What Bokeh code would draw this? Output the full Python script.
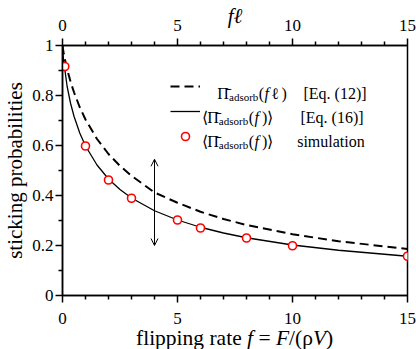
from bokeh.plotting import figure
from bokeh.models import (Range1d, LinearAxis, FixedTicker, Label, Arrow, OpenHead,
                          Legend, LegendItem, Div)
from bokeh.layouts import column
from bokeh.embed import file_html
from bokeh.resources import INLINE

# ---------------- data ----------------
f_curve = [0, 0.02, 0.05, 0.1, 0.2, 0.35, 0.5, 0.75, 1, 1.5, 2, 2.5, 3, 4,
           5, 6, 7, 8, 10, 12, 15]
p_eq12 = [1.0, 0.986, 0.970, 0.946, 0.906, 0.855, 0.813, 0.753, 0.704, 0.626,
          0.566, 0.518, 0.479, 0.412, 0.371, 0.335, 0.306, 0.282, 0.245, 0.217, 0.186]
p_eq16 = [1.0, 0.968, 0.937, 0.905, 0.837, 0.769, 0.717, 0.650, 0.598, 0.522,
          0.466, 0.424, 0.390, 0.339, 0.302, 0.273, 0.250, 0.231, 0.202, 0.181, 0.157]
f_sim = [0.1, 1, 2, 3, 5, 6, 8, 10, 15]
p_sim = [0.916, 0.598, 0.462, 0.389, 0.302, 0.270, 0.230, 0.199, 0.157]

x_ticks = [0, 5, 10, 15]
x_minor = [1, 2, 3, 4, 6, 7, 8, 9, 11, 12, 13, 14]
y_ticks = [0, 0.2, 0.4, 0.6, 0.8, 1.0]
y_tick_labels = ["0", "0.2", "0.4", "0.6", "0.8", "1"]
y_minor = [0.1, 0.3, 0.5, 0.7, 0.9]

arrow_f = 4
arrow_low = 0.2
arrow_high = 0.545

SERIF = "Liberation Serif"

# ---------------- figure ----------------
p = figure(width=416, height=332, x_range=Range1d(0, 15), y_range=Range1d(0, 1),
           output_backend="svg", toolbar_location=None,
           min_border_left=62, min_border_right=9, min_border_top=44, min_border_bottom=37)
p.grid.visible = False
p.outline_line_color = "black"
p.outline_line_width = 1.5
p.background_fill_color = "white"
p.border_fill_color = "white"


def style_axis(ax):
    ax.axis_line_width = 1.5
    ax.axis_line_color = "black"
    ax.major_tick_line_width = 1.5
    ax.minor_tick_line_width = 1.5
    ax.major_tick_line_color = "black"
    ax.minor_tick_line_color = "black"
    ax.major_tick_in = 0
    ax.major_tick_out = 7
    ax.minor_tick_in = 0
    ax.minor_tick_out = 4
    ax.major_label_text_font = SERIF
    ax.major_label_text_font_size = "17px"
    ax.major_label_text_color = "black"
    ax.axis_label_text_font = SERIF
    ax.axis_label_text_font_size = "21px"
    ax.axis_label_text_color = "black"
    ax.axis_label_text_font_style = "normal"


xax = p.xaxis[0]
xax.ticker = FixedTicker(ticks=x_ticks, minor_ticks=x_minor)
style_axis(xax)
xax.major_label_standoff = 10

yax = p.yaxis[0]
yax.ticker = FixedTicker(ticks=y_ticks, minor_ticks=y_minor)
yax.major_label_overrides = {t: s for t, s in zip(y_ticks, y_tick_labels)}
style_axis(yax)
yax.major_label_standoff = 2
yax.axis_label = "sticking probabilities"
yax.axis_label_standoff = 2

top = LinearAxis(ticker=FixedTicker(ticks=x_ticks, minor_ticks=x_minor))
style_axis(top)
top.major_label_standoff = 8
top.axis_label = "f\u2113"
top.axis_label_text_font_style = "italic"
top.axis_label_standoff = -11
p.add_layout(top, "above")

# ---------------- data marks ----------------
r12 = p.line(f_curve, p_eq12, line_color="black", line_width=2, line_dash="9 5")
r16 = p.line(f_curve, p_eq16, line_color="black", line_width=1.3)
rsim = p.scatter(f_sim, p_sim, marker="circle", size=8, line_color="#ff0000",
                 fill_color="white", line_width=1.6)

p.add_layout(Arrow(start=OpenHead(size=7, line_width=1, line_color="black"),
                   end=OpenHead(size=7, line_width=1, line_color="black"),
                   x_start=arrow_f, y_start=arrow_low, x_end=arrow_f, y_end=arrow_high,
                   line_width=1, line_color="black"))

# ---------------- legend samples ----------------
legend = Legend(items=[LegendItem(label=" ", renderers=[r12]),
                       LegendItem(label=" ", renderers=[r16]),
                       LegendItem(label=" ", renderers=[rsim])],
                location=(108, 149), glyph_width=30, glyph_height=20, label_height=20,
                label_width=0, label_standoff=0, spacing=5, padding=0, margin=0,
                border_line_color=None, background_fill_alpha=0,
                label_text_font_size="1px")
p.add_layout(legend)


# reference pixel -> data coordinates (layout helpers)
def dx(px):
    return (px - 62) / 23.0


def dy(py):
    return (295 - py) / 251.0


def put(text, px, py, size, style="normal"):
    p.add_layout(Label(x=dx(px), y=dy(py), text=text, text_font=SERIF,
                       text_font_size=size, text_font_style=style, text_color="black",
                       text_align="left", text_baseline="alphabetic"))


PI = "\u03a0\u0304"
# row 1
put(PI, 216.7, 92, "16px")
put("adsorb", 228.5, 95.5, "11px")
put("(", 258.3, 92, "16px")
put("f", 264, 92, "16px", "italic")
put("\u2113", 270.5, 92, "16px")
put(")", 281, 92, "16px")
put("[Eq. (12)]", 303, 92, "16px")
# rows 2 and 3
for base, tail, tx in [(116, "[Eq. (16)]", 300), (140.3, "simulation", 296.7)]:
    put("\u27e8", 201.7, base, "16px")
    put(PI, 206.7, base, "16px")
    put("adsorb", 218.3, base + 3.5, "11px")
    put("(", 248.3, base, "16px")
    put("f", 254, base, "16px", "italic")
    put(")\u27e9", 261.5, base, "16px")
    put(tail, tx, base, "16px")

# bottom axis title (with italic symbols) as real HTML text under the plot
xtitle = Div(text=('<div style="position:relative; top:-9px; padding-left:136px; '
                   'white-space:nowrap; font-family:\'Liberation Serif\'; '
                   'font-size:21.5px; color:black">'
                   'flipping rate <i>f</i> = <i>F</i>/(\u03c1<i>V</i>)</div>'),
             width=416, height=17, margin=0)

layout = column(p, xtitle, spacing=0)
open("out.html", "w").write(file_html(layout, INLINE))
